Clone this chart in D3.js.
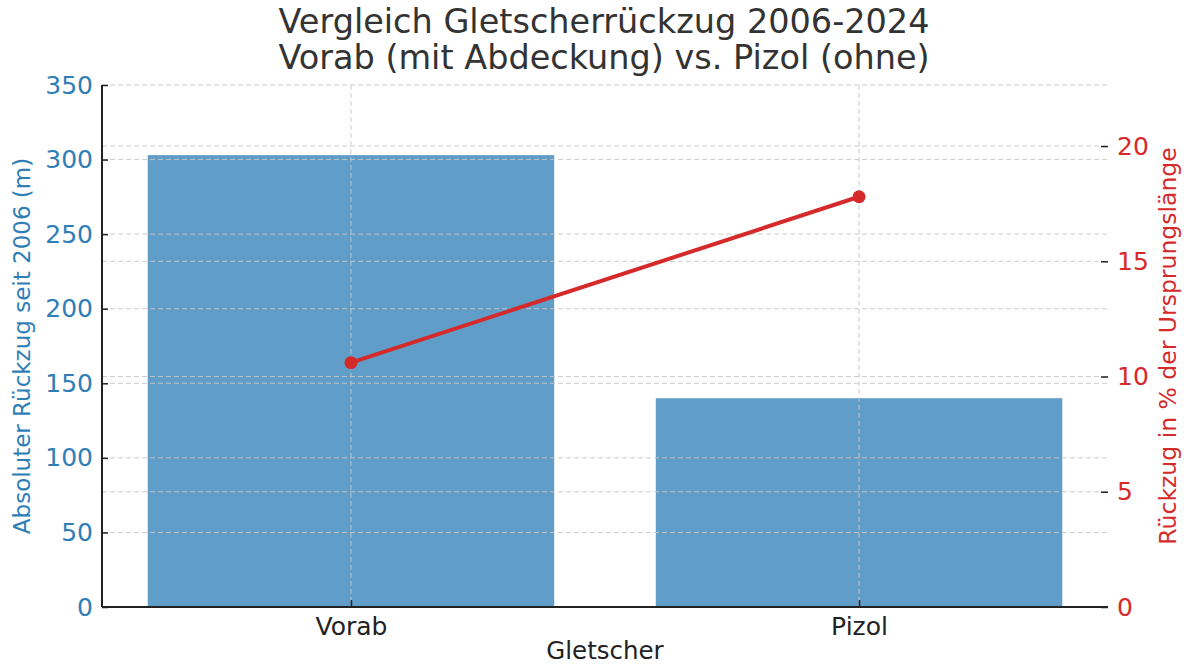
<!DOCTYPE html>
<html>
<head>
<meta charset="utf-8">
<script src="https://cdn.jsdelivr.net/npm/d3@7"></script>
<style>
  body { margin: 0; background: #fff; }
  svg text { font-family: "DejaVu Sans", sans-serif; }
</style>
</head>
<body>
<div id="chart"></div>
<script>
// data
var glaciers = ["Vorab", "Pizol"];
var retreatMeters = [303, 140];
var retreatPercent = [10.6, 17.8];
var leftTicks = [0, 50, 100, 150, 200, 250, 300, 350];
var rightTicks = [0, 5, 10, 15, 20];

var width = 1184, height = 666;
var plotL = 102, plotR = 1108, plotT = 85, plotB = 607;
var blue = "#2f7eb6", barColor = "#609ec9", red = "#d62a2a";

var svg = d3.select("#chart").append("svg")
    .attr("width", width)
    .attr("height", height);

// x positions like matplotlib: bars at 0,1 width 0.8, margins 0.05
var x = d3.scaleLinear().domain([-0.49, 1.49]).range([plotL, plotR]);
var yL = d3.scaleLinear().domain([0, 350]).range([plotB, plotT]);
var yR = d3.scaleLinear().domain([0, 22.65]).range([plotB, plotT]);

// bars
svg.append("g").selectAll("rect")
    .data(retreatMeters)
    .enter().append("rect")
    .attr("x", (d, i) => x(i - 0.4))
    .attr("width", x(0.8) - x(0))
    .attr("y", d => yL(d))
    .attr("height", d => yL(0) - yL(d))
    .attr("fill", barColor);

// grid (drawn above bars)
var grid = svg.append("g")
    .attr("stroke", "#c8c8c8")
    .attr("stroke-width", 1)
    .attr("stroke-dasharray", "5,3")
    .attr("opacity", 0.9);
grid.selectAll(".gl").data(leftTicks.slice(1)).enter().append("line")
    .attr("x1", plotL).attr("x2", plotR)
    .attr("y1", d => yL(d)).attr("y2", d => yL(d));
grid.selectAll(".gv").data(glaciers).enter().append("line")
    .attr("x1", (d, i) => x(i)).attr("x2", (d, i) => x(i))
    .attr("y1", plotT).attr("y2", plotB);
grid.selectAll(".gr").data(rightTicks.slice(1)).enter().append("line")
    .attr("x1", plotL).attr("x2", plotR)
    .attr("y1", d => yR(d)).attr("y2", d => yR(d));

// line on right axis
var line = d3.line()
    .x((d, i) => x(i))
    .y(d => yR(d));
svg.append("path")
    .datum(retreatPercent)
    .attr("d", line)
    .attr("fill", "none")
    .attr("stroke", red)
    .attr("stroke-width", 4);
svg.selectAll(".pt").data(retreatPercent).enter().append("circle")
    .attr("cx", (d, i) => x(i))
    .attr("cy", d => yR(d))
    .attr("r", 6.5)
    .attr("fill", red);

// axes (ticks point inward)
var axL = svg.append("g")
    .attr("transform", "translate(" + plotL + ",0)")
    .call(d3.axisLeft(yL).tickValues(leftTicks).tickSize(-6).tickPadding(9));
axL.select(".domain").attr("stroke", "#222").attr("stroke-width", 2).attr("d", "M0," + plotT + "V" + plotB);
axL.selectAll(".tick line").attr("stroke", "#222").attr("stroke-width", 1.5);
axL.selectAll(".tick text").attr("fill", blue).style("font-size", "25px");

var axR = svg.append("g")
    .attr("transform", "translate(" + plotR + ",0)")
    .call(d3.axisRight(yR).tickValues(rightTicks).tickSize(-7).tickPadding(9));
axR.select(".domain").remove();
axR.selectAll(".tick line").attr("stroke", "#222").attr("stroke-width", 1.5);
axR.selectAll(".tick text").attr("fill", red).style("font-size", "25px");

var xBand = d3.scalePoint().domain(glaciers).range([x(0), x(1)]);
var axX = svg.append("g")
    .attr("transform", "translate(0," + plotB + ")")
    .call(d3.axisBottom(xBand).tickSize(-7).tickPadding(10));
axX.select(".domain").attr("stroke", "#222").attr("stroke-width", 2).attr("d", "M" + plotL + ",0H" + plotR);
axX.selectAll(".tick line").attr("stroke", "#222").attr("stroke-width", 1.5);
axX.selectAll(".tick text").attr("fill", "#222").style("font-size", "25px");

// labels
svg.append("text")
    .attr("x", 605).attr("y", 659)
    .attr("text-anchor", "middle")
    .attr("fill", "#222")
    .style("font-size", "24.5px")
    .text("Gletscher");

svg.append("text")
    .attr("transform", "translate(30," + (plotT + plotB) / 2 + ") rotate(-90)")
    .attr("text-anchor", "middle")
    .attr("fill", blue)
    .style("font-size", "23px")
    .text("Absoluter Rückzug seit 2006 (m)");

svg.append("text")
    .attr("transform", "translate(1176," + (plotT + plotB) / 2 + ") rotate(-90)")
    .attr("text-anchor", "middle")
    .attr("fill", red)
    .style("font-size", "23.5px")
    .text("Rückzug in % der Ursprungslänge");

// title
var title = svg.append("text")
    .attr("text-anchor", "middle")
    .attr("fill", "#333")
    .style("font-size", "33.5px");
title.append("tspan").attr("x", 604).attr("y", 33).text("Vergleich Gletscherrückzug 2006-2024");
title.append("tspan").attr("x", 604).attr("y", 69).text("Vorab (mit Abdeckung) vs. Pizol (ohne)");
</script>
</body>
</html>
